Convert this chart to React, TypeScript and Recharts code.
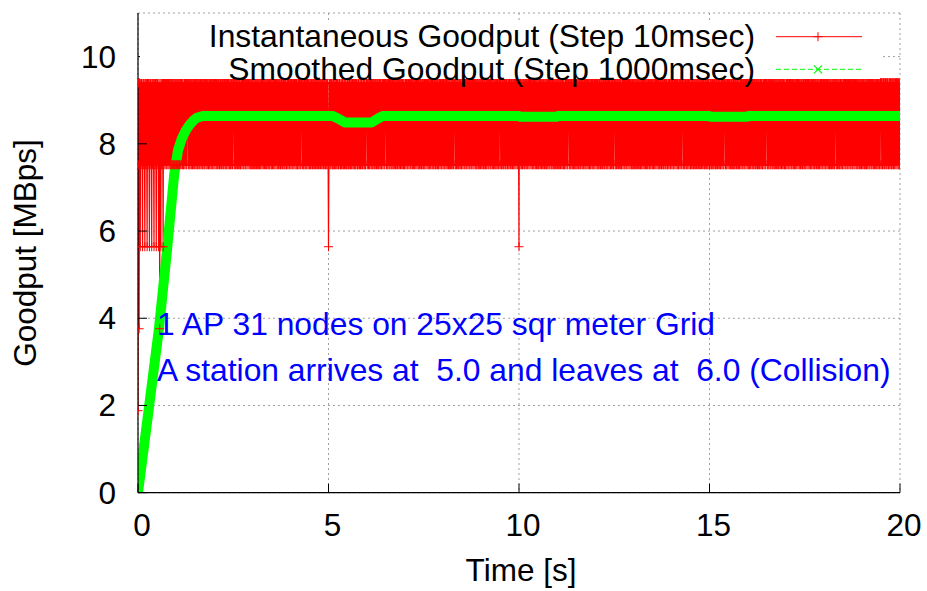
import React from 'react';
import { ComposedChart, Line, XAxis, YAxis, CartesianGrid, Legend, ReferenceDot } from 'recharts';

// ---------- text ----------
const X_LABEL = 'Time [s]';
const Y_LABEL = 'Goodput [MBps]';
const INST_NAME = 'Instantaneous Goodput (Step 10msec)';
const SMOOTH_NAME = 'Smoothed Goodput (Step 1000msec)';
const NOTE_LINES = ['1 AP 31 nodes on 25x25 sqr meter Grid', 'A station arrives at  5.0 and leaves at  6.0 (Collision)'];
const NOTE_AT = { t: 0.5, v: [3.62, 2.56] };

// ---------- axes ----------
const X_DOMAIN = [0, 20];
const Y_DOMAIN = [0, 11];
const X_TICKS = [0, 5, 10, 15, 20];
const Y_TICKS = [0, 2, 4, 6, 8, 10];

// ---------- instantaneous goodput (every 10 ms, as level codes) ----------
const INST_STEP_S = 0.01;
const INST_LEVELS = [0, 1.88, 3.76, 5.64, 7.52, 9.4];
const INST_CODES: string[] = [
  '1542543545', '5435455435', '4554354554', '3545543545', '5435455435', '4554354254', '3545543545', '5455454554', '5545545454', '4554554545', // 0 s
  '5455454554', '5545545454', '4554554545', '5545454554', '5454554554', '4554554545', '5454554554', '5455454554', '5545545454', '5545454554', // 1 s
  '5545545454', '5545454554', '5455454554', '5454554554', '4554554545', '5545454554', '5455454554', '4554554545', '5454554554', '5545545454', // 2 s
  '4554554545', '5455454554', '5454554554', '5545545454', '5545454554', '5454554554', '5545545454', '5545454554', '5455454554', '4554554545', // 3 s
  '5455454554', '5545545454', '4554554545', '5545454554', '5454554554', '4554554545', '5454554554', '5455454554', '5545545454', '5545454554', // 4 s
  '3455454554', '5445454545', '4545544545', '5445454554', '4545545445', '5445454545', '4545545454', '4545544545', '5445454554', '4554545445', // 5 s
  '5545545454', '5545454554', '5455454554', '5454554554', '4554554545', '5545454554', '5455454554', '4554554545', '5454554554', '5545545454', // 6 s
  '4554554545', '5455454554', '5454554554', '5545545454', '5545454554', '5454554554', '5545545454', '5545454554', '5455454554', '4554554545', // 7 s
  '5455454554', '5545545454', '4554554545', '5545454554', '5454554554', '4554554545', '5454554554', '5455454554', '5545545454', '5545454554', // 8 s
  '5545545454', '5545454554', '5455454554', '5454554554', '4554554545', '5545454554', '5455454554', '4554554545', '5454554554', '5545545454', // 9 s
  '3545545454', '5455454554', '5454554554', '5545545454', '5545454554', '5454554554', '5545545454', '5545454554', '5455454554', '4554554545', // 10 s
  '5455454554', '5545545454', '4554554545', '5545454554', '5454554554', '4554554545', '5454554554', '5455454554', '5545545454', '5545454554', // 11 s
  '5545545454', '5545454554', '5455454554', '5454554554', '4554554545', '5545454554', '5455454554', '4554554545', '5454554554', '5545545454', // 12 s
  '4554554545', '5455454554', '5454554554', '5545545454', '5545454554', '5454554554', '5545545454', '5545454554', '5455454554', '4554554545', // 13 s
  '5455454554', '5545545454', '4554554545', '5545454554', '5454554554', '4554554545', '5454554554', '5455454554', '5545545454', '5545454554', // 14 s
  '4545545454', '5455454545', '5454554554', '4554554545', '5545454554', '5545545454', '5445454554', '5455454554', '4554554545', '5454554554', // 15 s
  '5545545454', '5545454554', '5455454554', '5454554554', '4554554545', '5545454554', '5455454554', '4554554545', '5454554554', '5545545454', // 16 s
  '4554554545', '5455454554', '5454554554', '5545545454', '5545454554', '5454554554', '5545545454', '5545454554', '5455454554', '4554554545', // 17 s
  '5455454554', '5545545454', '4554554545', '5545454554', '5454554554', '4554554545', '5454554554', '5455454554', '5545545454', '5545454554', // 18 s
  '5545545454', '5545454554', '5455454554', '5454554554', '4554554545', '5545454554', '5455454554', '4554554545', '5454554554', '5545545454', // 19 s
  '5',                                                                                                                                         // 20 s
];

// ---------- smoothed goodput ----------
const SMOOTH_T = [0, 0.25, 0.55, 0.77, 0.95, 1.05, 1.15, 1.25, 1.35, 1.45, 1.55, 1.7, 5.1, 5.25, 5.43, 6.13, 6.3, 6.43, 10.0, 10.02, 11.0, 11.02, 15.0, 15.02, 16.0, 16.02, 20];
const SMOOTH_V = [0, 1.7, 3.76, 5.64, 7.3, 7.85, 8.12, 8.3, 8.43, 8.53, 8.6, 8.64, 8.64, 8.58, 8.49, 8.49, 8.58, 8.64, 8.64, 8.62, 8.62, 8.64, 8.64, 8.62, 8.62, 8.64, 8.64];

const INST_DATA = INST_CODES.join('').split('').map((c, i) => ({ t: +(i * INST_STEP_S).toFixed(2), inst: INST_LEVELS[+c] }));
const SMOOTH_DATA = SMOOTH_T.map((t, i) => ({ t, smooth: SMOOTH_V[i] }));

// ---------- style ----------
const FONT = '"Liberation Sans", Arial, Helvetica, sans-serif';
const FS = 31.5;
const FS_TEXT = 31.8;
const RED = '#ff0000';
const GREEN = '#00ff00';
const BLUE = '#0000ff';
const SERIES_STYLE: Record<string, { marker: 'plus' | 'cross'; dash?: string }> = {
  inst: { marker: 'plus' },
  smooth: { marker: 'cross', dash: '5 3' },
};

const Marker = ({ kind, cx, cy, color }: { kind: 'plus' | 'cross'; cx: number; cy: number; color: string }) =>
  kind === 'plus' ? (
    <path d={`M${cx - 4.5},${cy}h9M${cx},${cy - 4.5}v9`} stroke={color} strokeWidth={1} fill="none" />
  ) : (
    <path d={`M${cx - 4},${cy - 4}l8,8M${cx - 4},${cy + 4}l8,-8`} stroke={color} strokeWidth={1.2} fill="none" />
  );

const PlusDot = (p: any) =>
  p.cx == null || p.cy == null ? <g key={p.index} /> : (
    <path key={p.index} d={`M${p.cx - 4.5},${p.cy}h9M${p.cx},${p.cy - 4.5}v9`} stroke={RED} strokeWidth={1} fill="none" />
  );

const YTick = (p: any) => (
  <text x={116} y={p.y} dy={11} textAnchor="end" fontSize={FS} fill="#000" fontFamily={FONT}>
    {p.payload.value}
  </text>
);
const XTick = (p: any) => (
  <text x={p.x + 4} y={536} textAnchor="middle" fontSize={FS} fill="#000" fontFamily={FONT}>
    {p.payload.value}
  </text>
);
const NoTick = () => <g />;

const YTitle = () => (
  <text x={36} y={253} transform="rotate(-90, 36, 253)" textAnchor="middle" fontSize={FS} fill="#000" fontFamily={FONT}>
    {Y_LABEL}
  </text>
);
const XTitle = () => (
  <text x={521} y={581} textAnchor="middle" fontSize={FS} fill="#000" fontFamily={FONT}>
    {X_LABEL}
  </text>
);

const NoteLabel = (line: string) => (p: any) => (
  <text x={p.viewBox.x} y={p.viewBox.y} fontSize={FS_TEXT} fill={BLUE} fontFamily={FONT} style={{ whiteSpace: 'pre' }}>
    {line}
  </text>
);

function LegendContent(props: any) {
  const items = props.payload || [];
  return (
    <svg width={740} height={58} style={{ display: 'block', overflow: 'visible', background: '#fff' }}>
      {items.map((it: any, i: number) => {
        const cy = 15.7 + i * 32.6;
        const st = SERIES_STYLE[it.dataKey] || { marker: 'plus' };
        return (
          <g key={i}>
            <text x={615} y={cy + 10.5} textAnchor="end" fontSize={FS_TEXT} fill="#000" fontFamily={FONT}>
              {it.value}
            </text>
            <line x1={636} x2={722} y1={cy} y2={cy} stroke={it.color} strokeWidth={1} strokeDasharray={st.dash} />
            <Marker kind={st.marker} cx={678} cy={cy} color={it.color} />
          </g>
        );
      })}
    </svg>
  );
}

export default function App() {
  return (
    <div style={{ position: 'absolute', left: 0, top: 0, width: 927, height: 591, background: '#fff', fontFamily: FONT }}>
      <ComposedChart width={927} height={591} margin={{ top: 13, right: 27, bottom: 58.3, left: 78 }}>
        <CartesianGrid stroke="#a0a0a0" strokeDasharray="2 3" strokeWidth={1} />
        <Legend
          layout="vertical"
          align="center"
          verticalAlign="middle"
          wrapperStyle={{ left: 140, top: 21, width: 740, height: 58 }}
          content={LegendContent}
        />
        <Line
          data={INST_DATA}
          dataKey="inst"
          name={INST_NAME}
          type="linear"
          stroke={RED}
          strokeWidth={1.2}
          strokeLinejoin="bevel"
          dot={PlusDot}
          activeDot={false}
          isAnimationActive={false}
        />
        <Line
          data={SMOOTH_DATA}
          dataKey="smooth"
          name={SMOOTH_NAME}
          type="linear"
          stroke={GREEN}
          strokeWidth={10}
          strokeLinejoin="round"
          dot={false}
          activeDot={false}
          isAnimationActive={false}
        />
        {NOTE_LINES.map((line, i) => (
          <ReferenceDot key={i} x={NOTE_AT.t} y={NOTE_AT.v[i]} r={0} fill="none" stroke="none" label={NoteLabel(line)} />
        ))}
        <XAxis
          dataKey="t"
          type="number"
          domain={X_DOMAIN}
          ticks={X_TICKS}
          allowDataOverflow
          height={40}
          tickSize={-9}
          tick={XTick}
          stroke="#000"
          axisLine={{ stroke: '#000', strokeWidth: 1.2 }}
          tickLine={{ stroke: '#000' }}
          label={XTitle}
        />
        <XAxis
          xAxisId="top"
          orientation="top"
          dataKey="t"
          type="number"
          domain={X_DOMAIN}
          ticks={X_TICKS}
          allowDataOverflow
          height={0}
          tickSize={-9}
          tick={NoTick}
          axisLine={{ stroke: '#000', strokeWidth: 1.2 }}
          tickLine={{ stroke: '#000' }}
        />
        <YAxis
          type="number"
          domain={Y_DOMAIN}
          ticks={Y_TICKS}
          allowDataOverflow
          width={60}
          tickSize={-9}
          tick={YTick}
          axisLine={{ stroke: '#000', strokeWidth: 1.2 }}
          tickLine={{ stroke: '#000' }}
          label={YTitle}
        />
        <YAxis
          yAxisId="right"
          orientation="right"
          type="number"
          domain={Y_DOMAIN}
          ticks={Y_TICKS}
          allowDataOverflow
          width={0}
          tickSize={-9}
          tick={NoTick}
          axisLine={{ stroke: '#000', strokeWidth: 1.2 }}
          tickLine={{ stroke: '#000' }}
        />
      </ComposedChart>
    </div>
  );
}
